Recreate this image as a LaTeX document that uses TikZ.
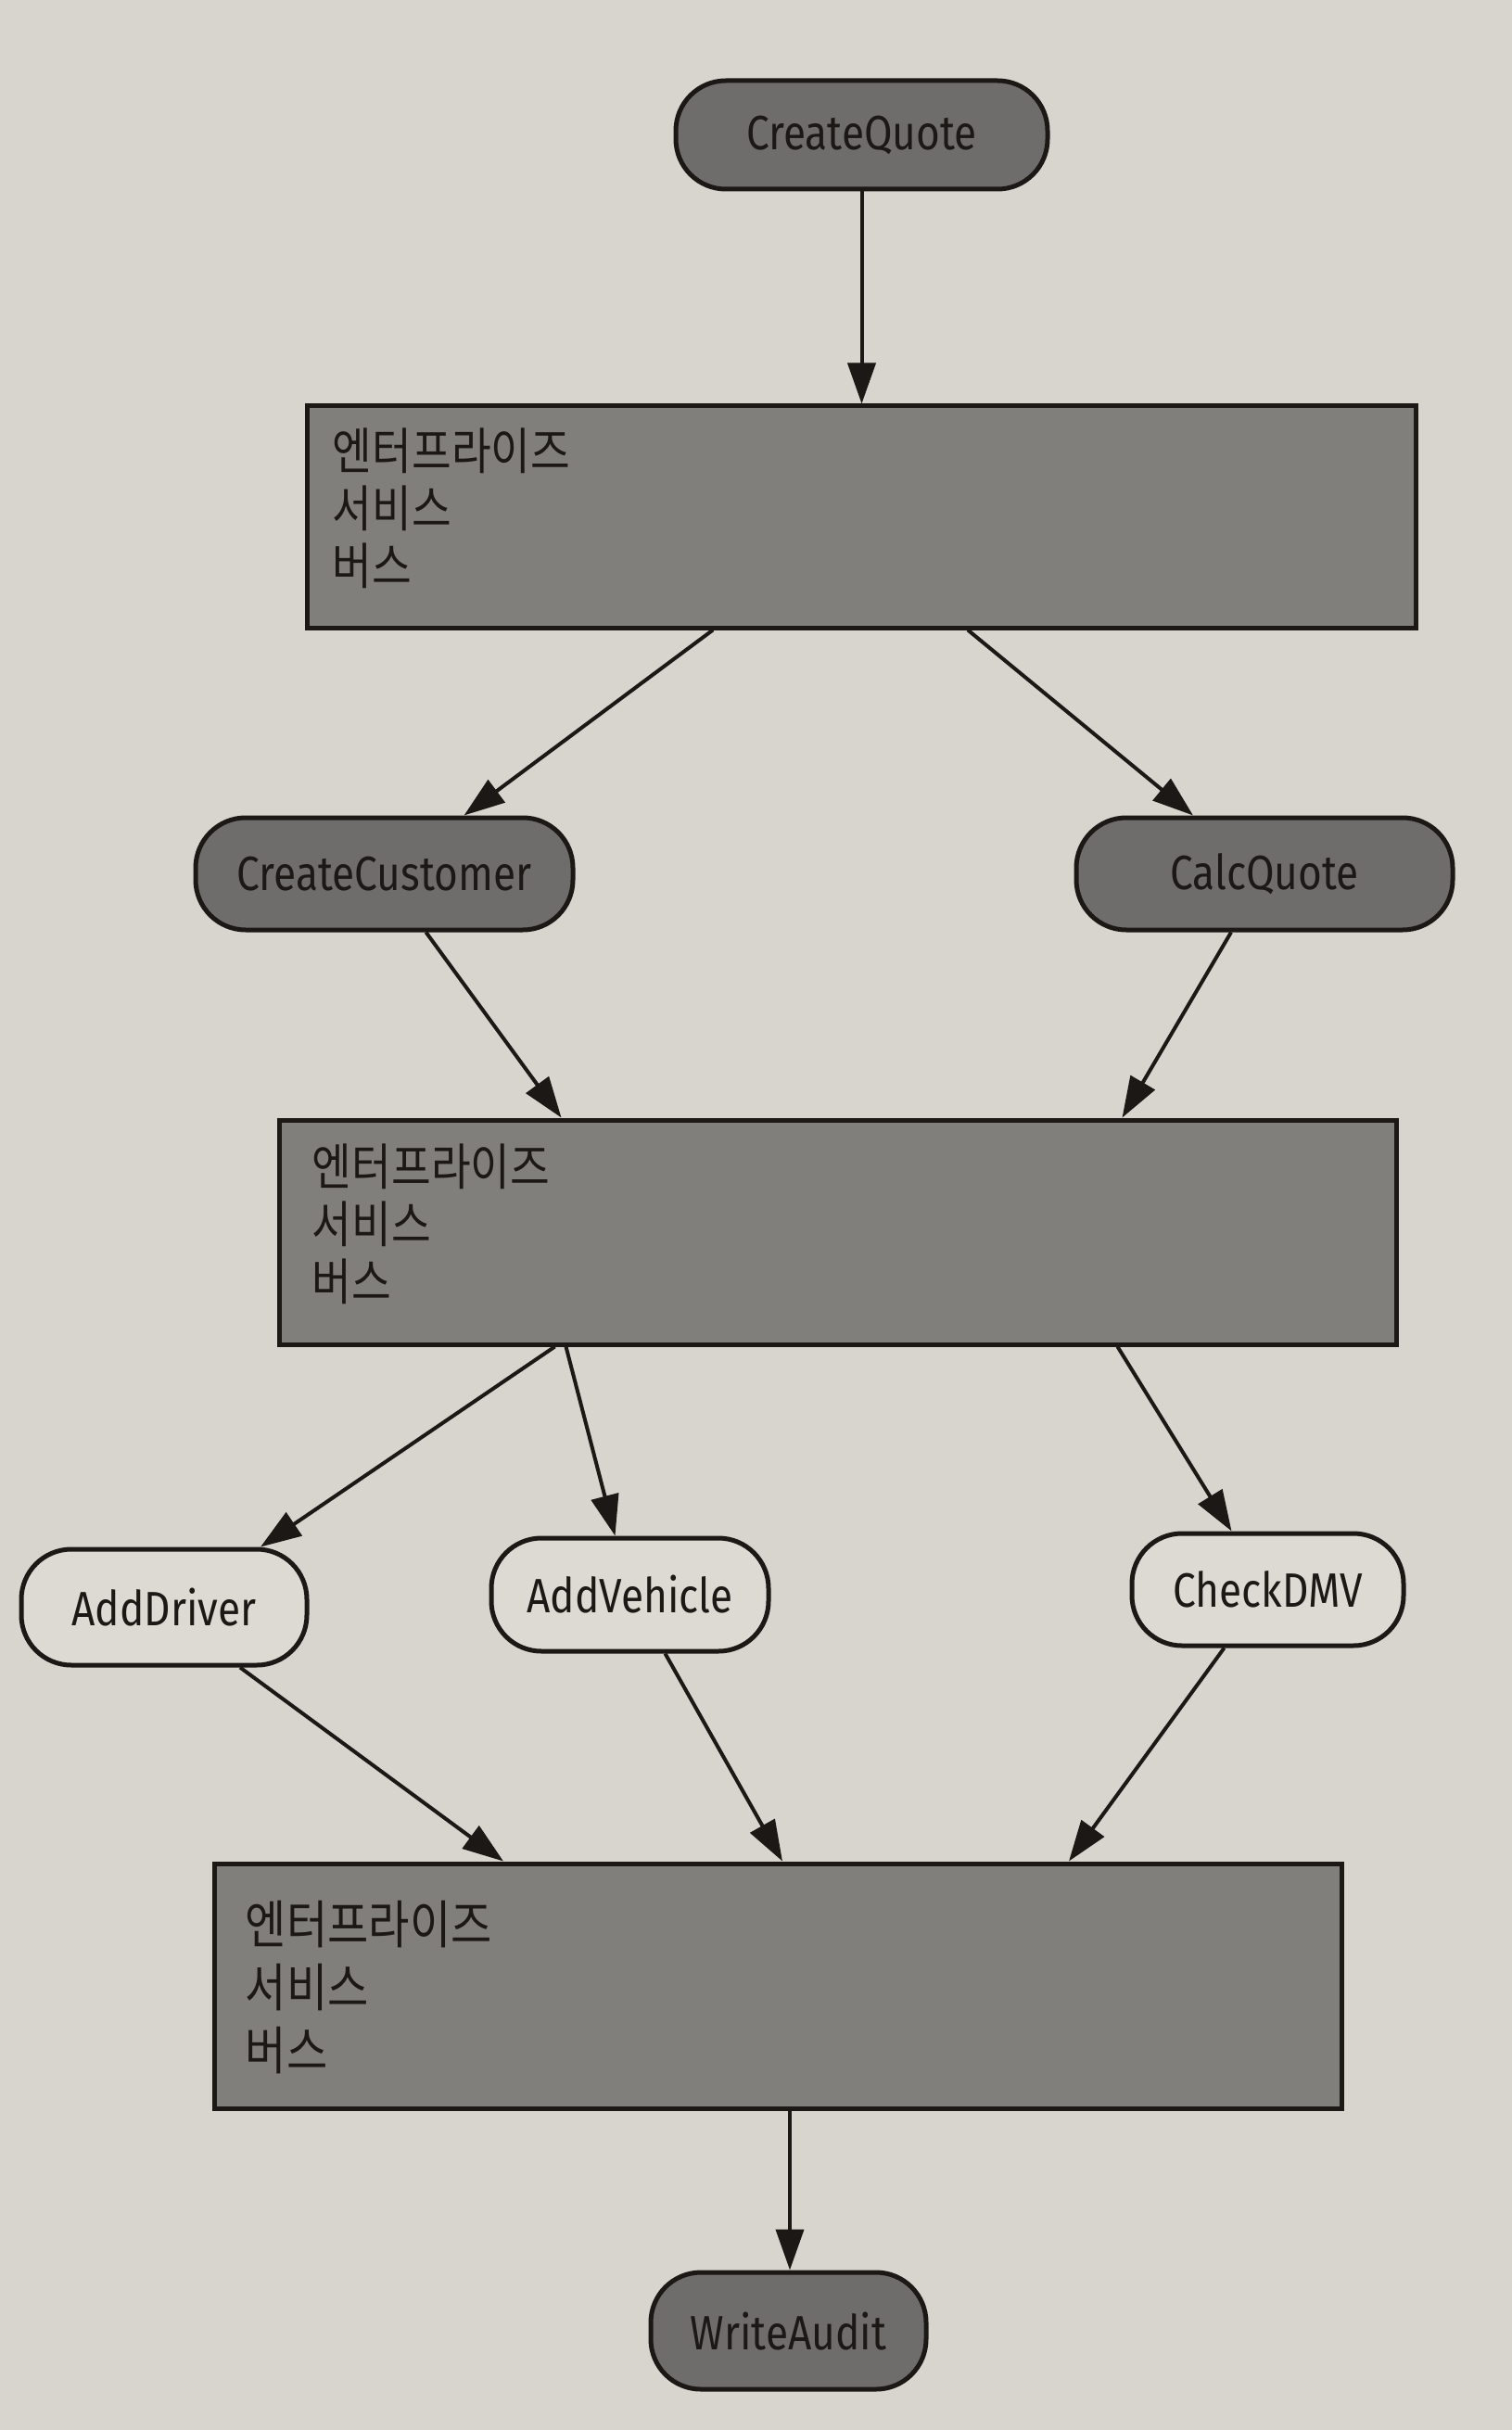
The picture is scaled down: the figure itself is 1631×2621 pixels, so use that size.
\documentclass[tikz,border=0pt]{standalone}
\usepackage{fontspec}
\newfontfamily\lab[FakeStretch=0.85]{Fira Sans}
\newfontfamily\kr[FakeStretch=0.86]{Noto Sans CJK KR}
\usetikzlibrary{arrows.meta,calc}
\definecolor{paper}{HTML}{D8D5CE}
\definecolor{ink}{HTML}{1C1816}
\definecolor{darkpill}{HTML}{6F6D6B}
\definecolor{busfill}{HTML}{817F7C}
\definecolor{lightpill}{HTML}{DDDAD3}
\tikzset{
  pill/.style={draw=ink, line width=2.5pt, rounded corners=27pt, inner sep=0pt,
    font=\lab\fontsize{26pt}{30pt}\selectfont, text=ink},
  darkp/.style={pill, fill=darkpill},
  lightp/.style={pill, fill=lightpill},
  bus/.style={draw=ink, line width=2.5pt, fill=busfill, inner sep=0pt},
  bustext/.style={anchor=north west, inner sep=0pt, align=left, text=ink,
    font=\kr\fontsize{27pt}{31pt}\selectfont},
  arr/.style={draw=ink, line width=2pt, -{Triangle[length=22pt,width=15pt]}}
}
\begin{document}
\begin{tikzpicture}[x=0.5pt,y=-0.5pt]
\fill[paper] (0,0) rectangle (1631,2621);
\useasboundingbox (0,0) rectangle (1631,2621);

\node[darkp, minimum width=200.5pt, minimum height=58.5pt] (cq) at (929.5,145.5) {CreateQuote};
\node[bus, minimum width=598pt, minimum height=119.5pt] (esb1) at (929,557.5) {};
\node[bustext] (esb1t) at ($(esb1.north west)+(30,26)$) {엔터프라이즈\\서비스\\버스};

\node[darkp, minimum width=203.5pt, minimum height=60.5pt] (cc) at (414.5,942.5) {CreateCustomer};
\node[darkp, minimum width=203pt, minimum height=60.5pt] (calc) at (1364,942.5) {CalcQuote};

\node[bus, minimum width=602.5pt, minimum height=121pt] (esb2) at (903.5,1329) {};
\node[bustext] (esb2t) at ($(esb2.north west)+(38,28)$) {엔터프라이즈\\서비스\\버스};

\node[lightp, minimum width=154pt, minimum height=62.5pt] (ad) at (177,1733.5) {AddDriver};
\node[lightp, minimum width=149.5pt, minimum height=61pt] (av) at (679.5,1720) {AddVehicle};
\node[lightp, minimum width=146.5pt, minimum height=60.5pt] (dmv) at (1367.5,1714.5) {CheckDMV};

\node[bus, minimum width=608pt, minimum height=132pt] (esb3) at (839,2142) {};
\node[bustext, font=\kr\fontsize{28pt}{34pt}\selectfont] (esb3t) at ($(esb3.north west)+(36,42)$) {엔터프라이즈\\서비스\\버스};

\node[darkp, minimum width=148.5pt, minimum height=63pt] (wa) at (850.5,2514) {WriteAudit};

\draw[arr] (cq.south) -- (cq.south |- esb1.north);
\draw[arr] ($(esb1.south)+(-160,0)$) -- ($(cc.north)+(86,0)$);
\draw[arr] ($(esb1.south)+(115,0)$) -- ($(calc.north)+(-77,0)$);
\draw[arr] ($(cc.south)+(45,0)$) -- ($(esb2.north)+(-298,0)$);
\draw[arr] ($(calc.south)+(-36,0)$) -- ($(esb2.north)+(307,0)$);
\draw[arr] ($(esb2.south)+(-305,0)$) -- ($(ad.north)+(104,0)$);
\draw[arr] ($(esb2.south)+(-293,0)$) -- ($(av.north)+(-16,0)$);
\draw[arr] ($(esb2.south)+(302,0)$) -- ($(dmv.north)+(-39,0)$);
\draw[arr] ($(ad.south)+(82,0)$) -- ($(esb3.north)+(-296,0)$);
\draw[arr] ($(av.south)+(38,0)$) -- ($(esb3.north)+(5,0)$);
\draw[arr] ($(dmv.south)+(-47,0)$) -- ($(esb3.north)+(314,0)$);
\draw[arr] ($(esb3.south)+(13,0)$) -- ($(wa.north)+(1.5,0)$);
\end{tikzpicture}
\end{document}
